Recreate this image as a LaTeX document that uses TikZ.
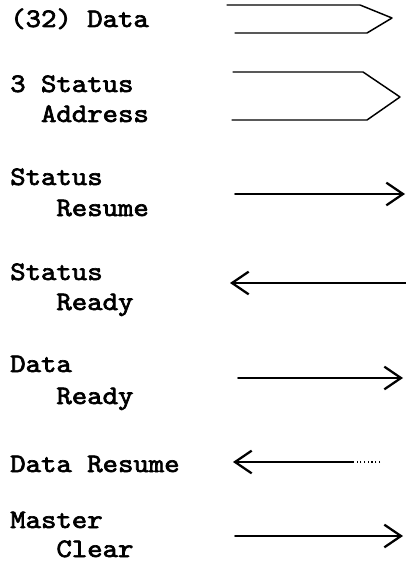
\documentclass[tikz,border=0pt]{standalone}
\usepackage{fontspec}
\usepackage{graphicx}
\newfontfamily\typewriter{lmmono10-regular.otf}[FakeBold=2.4]
\usetikzlibrary{arrows.meta}
\newcommand\tw[1]{\scalebox{1.1}[1]{\typewriter\fontsize{20}{24}\selectfont #1}}
\begin{document}
\begin{tikzpicture}[x=0.75pt,y=-0.75pt,
  lbl/.style={anchor=base west,inner sep=0pt},
  bus/.style={line width=1.1pt,line join=round,line cap=round},
  sig/.style={line width=1.2pt,line cap=round,
    -{Straight Barb[length=12.5pt,width=17pt,line width=1.7pt]}},
  tail/.style={line width=0.8pt,dotted}]
\useasboundingbox (0,0) rectangle (406,570);

% signal names
\node[lbl] (d32)  at (10,27)    {\tw{(32) Data}};
\node[lbl] (sa1)  at (10,92)    {\tw{3 Status}};
\node[lbl] (sa2)  at (40.8,122) {\tw{Address}};
\node[lbl] (sr1)  at (10,185)   {\tw{Status}};
\node[lbl] (sr2)  at (56.2,216) {\tw{Resume}};
\node[lbl] (sy1)  at (10,280)   {\tw{Status}};
\node[lbl] (sy2)  at (56.2,310) {\tw{Ready}};
\node[lbl] (dy1)  at (10,372)   {\tw{Data}};
\node[lbl] (dy2)  at (56.2,404) {\tw{Ready}};
\node[lbl] (dr)   at (10,472)   {\tw{Data Resume}};
\node[lbl] (mc1)  at (10,528)   {\tw{Master}};
\node[lbl] (mc2)  at (56.2,557) {\tw{Clear}};

% bus outlines
\coordinate (b1a) at (227,5);  \coordinate (b1b) at (360,5);
\coordinate (b1t) at (392,18);
\coordinate (b1c) at (367,33); \coordinate (b1d) at (235,33);
\draw[bus] (b1a) -- (b1b) -- (b1t) -- (b1c) -- (b1d);

\coordinate (b2a) at (233,72);  \coordinate (b2b) at (363,72);
\coordinate (b2t) at (400,97);
\coordinate (b2c) at (367,120); \coordinate (b2d) at (232,120);
\draw[bus] (b2a) -- (b2b) -- (b2t) -- (b2c) -- (b2d);

% single control lines
\coordinate (s3a) at (235,194); \coordinate (s3b) at (405,194);
\draw[sig] (s3a) -- (s3b);

\coordinate (s4a) at (406,283); \coordinate (s4b) at (230,283);
\draw[sig] (s4a) -- (s4b);

\coordinate (s5a) at (238,378); \coordinate (s5b) at (403,378);
\draw[sig] (s5a) -- (s5b);

\coordinate (s6e) at (380,462); \coordinate (s6a) at (353,462);
\coordinate (s6b) at (233,462);
\draw[tail] (s6e) -- (s6a);
\draw[sig] (s6a) -- (s6b);

\coordinate (s7a) at (235,536); \coordinate (s7b) at (403,536);
\draw[sig] (s7a) -- (s7b);
\end{tikzpicture}
\end{document}
